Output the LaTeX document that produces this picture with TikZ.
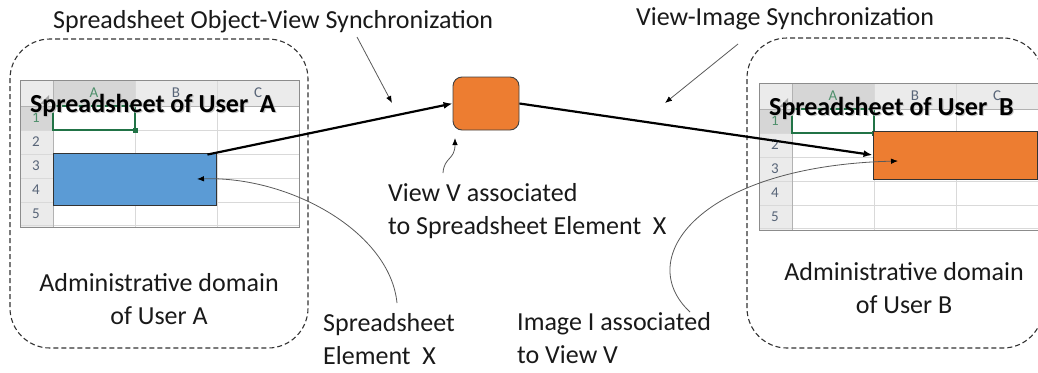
\documentclass[tikz,border=0pt]{standalone}
\usepackage{fontspec}
\setmainfont{Carlito}
\usetikzlibrary{arrows.meta,calc}

\definecolor{officeblue}{HTML}{5B9BD5}
\definecolor{officeorange}{HTML}{ED7D31}
\definecolor{xlgreen}{HTML}{217346}
\definecolor{hdrfill}{HTML}{EBEBEB}
\definecolor{hdrsel}{HTML}{D6D6D6}
\definecolor{gridc}{HTML}{D9D9D9}
\definecolor{framec}{HTML}{8C8C8C}
\definecolor{hdrtext}{HTML}{3B4A60}

\tikzset{
  x=1pt, y=-1pt,
  domainbox/.style={draw=black!80, line width=1.1pt, dash pattern=on 5pt off 3pt,
    rounded corners=40pt, minimum width=#1},
  caption/.style={font=\fontsize{26}{33}\selectfont, text=black!90, inner sep=0pt},
  sheettitle/.style={font=\fontsize{26}{30}\selectfont\bfseries, text=black, inner sep=0pt, anchor=base west},
  hdrletter/.style={font=\fontsize{15}{15}\selectfont, text=hdrtext!85, inner sep=0pt},
  cellbox/.style={draw=black!80, line width=0.9pt, minimum width=#1, inner sep=0pt},
  fatarrow/.style={line width=2.2pt, -{Latex[length=9pt,width=7pt]}},
  thinarrow/.style={draw=black!65, line width=0.8pt, arrows={-{Latex[length=7pt,width=5.5pt,color=black]}}},
}

% Excel-like worksheet grid with a bold title laid over its header row
\newcommand\xlsheet[3]{% #1 origin, #2 title node name, #3 title text
\begin{scope}[shift={#1}]
  \fill[hdrfill] (0,0) rectangle (279,26);
  \fill[hdrfill] (0,26) rectangle (33,147);
  \fill[hdrsel] (33,0) rectangle (115,26);
  \fill[hdrsel] (0,26) rectangle (33,50);
  \fill[black!35] (29,15) -- (29,24) -- (20,24) -- cycle;
  \foreach \yy in {50,74,98,122,145} \draw[gridc, line width=0.8pt] (0,\yy) -- (279,\yy);
  \foreach \xx in {115,197} \draw[gridc, line width=0.8pt] (\xx,0) -- (\xx,147);
  \draw[black!30, line width=0.8pt] (0,26) -- (279,26);
  \draw[black!30, line width=0.8pt] (33,0) -- (33,147);
  \node[hdrletter, text=xlgreen!80] at (74,13) {A};
  \node[hdrletter] at (156,13) {B};
  \node[hdrletter] at (238,13) {C};
  \node[hdrletter, text=xlgreen!80] at (16,38) {1};
  \node[hdrletter] at (16,62) {2};
  \node[hdrletter] at (16,86) {3};
  \node[hdrletter] at (16,110) {4};
  \node[hdrletter] at (16,134) {5};
  \draw[xlgreen, line width=1.4pt] (33,26) rectangle (115,50);
  \fill[xlgreen] (112.5,47.5) rectangle (118,53);
  \draw[framec, line width=0.9pt] (0,0) rectangle (279,147);
  \node[sheettitle, text=black!22] (#2shadow) at (11.2,33.2) {#3};
  \node[sheettitle] (#2) at (10,32) {#3};
\end{scope}}

\begin{document}
\begin{tikzpicture}
\useasboundingbox (0,0) rectangle (1038,372);

% administrative domains
\node[domainbox=298pt, minimum height=309pt] (domA) at (159,193.5) {};
\node[domainbox=296pt, minimum height=310pt] (domB) at (895,193) {};

% the two worksheets
\xlsheet{(20,80)}{titleA}{Spreadsheet of User~~A}
\xlsheet{(759,83)}{titleB}{Spreadsheet of User~~B}

% spreadsheet element, view and image
\node[cellbox=163pt, minimum height=52pt, fill=officeblue] (elemX) at (134.5,179) {};
\node[cellbox=164pt, minimum height=48pt, fill=officeorange] (imageI) at (955,155) {};
\node[draw=black!75, line width=0.9pt, fill=officeorange, rounded corners=9pt,
      minimum width=66pt, minimum height=53pt] (viewV) at (486,103.5) {};

% synchronisation links
\draw[fatarrow] ($(elemX.north east)+(-9,2)$) -- (viewV.west);
\draw[fatarrow] (viewV.east) -- (imageI.west);

% captions
\node[caption, anchor=base west] (syncOV) at (53,28) {Spreadsheet Object-View Synchronization};
\node[caption, anchor=base west] (syncVI) at (636,25) {View-Image Synchronization};
\node[caption, anchor=north west, align=left] (viewText) at (388,183.5) {View V associated\\to Spreadsheet Element~~X};
\node[caption, anchor=north, align=center] (admA) at (159,273.5) {Administrative domain\\of User A};
\node[caption, anchor=north, align=center] (admB) at (904,262.5) {Administrative domain\\of User B};
\node[caption, anchor=north west, align=left] (elemText) at (323,313.5) {Spreadsheet\\Element~~X};
\node[caption, anchor=north west, align=left] (imageText) at (517,312.5) {Image I associated\\to View V};

% pointer ends
\coordinate (ovFrom) at (357,37);
\coordinate (ovTo) at (392,103);
\coordinate (viFrom) at (738,44);
\coordinate (viTo) at (665,103);
\coordinate (vvFrom) at (443,173);
\coordinate (vvTo) at (455,138);
\coordinate (exFrom) at (397,303);
\coordinate (exTo) at (197,179);
\coordinate (iiFrom) at (690,312);
\coordinate (iiTo) at (898,161);

% pointers from captions
\draw[thinarrow] (ovFrom) -- (ovTo);
\draw[thinarrow] (viFrom) -- (viTo);
\draw[thinarrow] (vvFrom) .. controls (444,157) and (455,160) .. (vvTo);
\draw[thinarrow] (exFrom) .. controls (390,232) and (290,176) .. (exTo);
\draw[thinarrow] (iiFrom) .. controls (632,258) and (700,166) .. (iiTo);
\end{tikzpicture}
\end{document}
